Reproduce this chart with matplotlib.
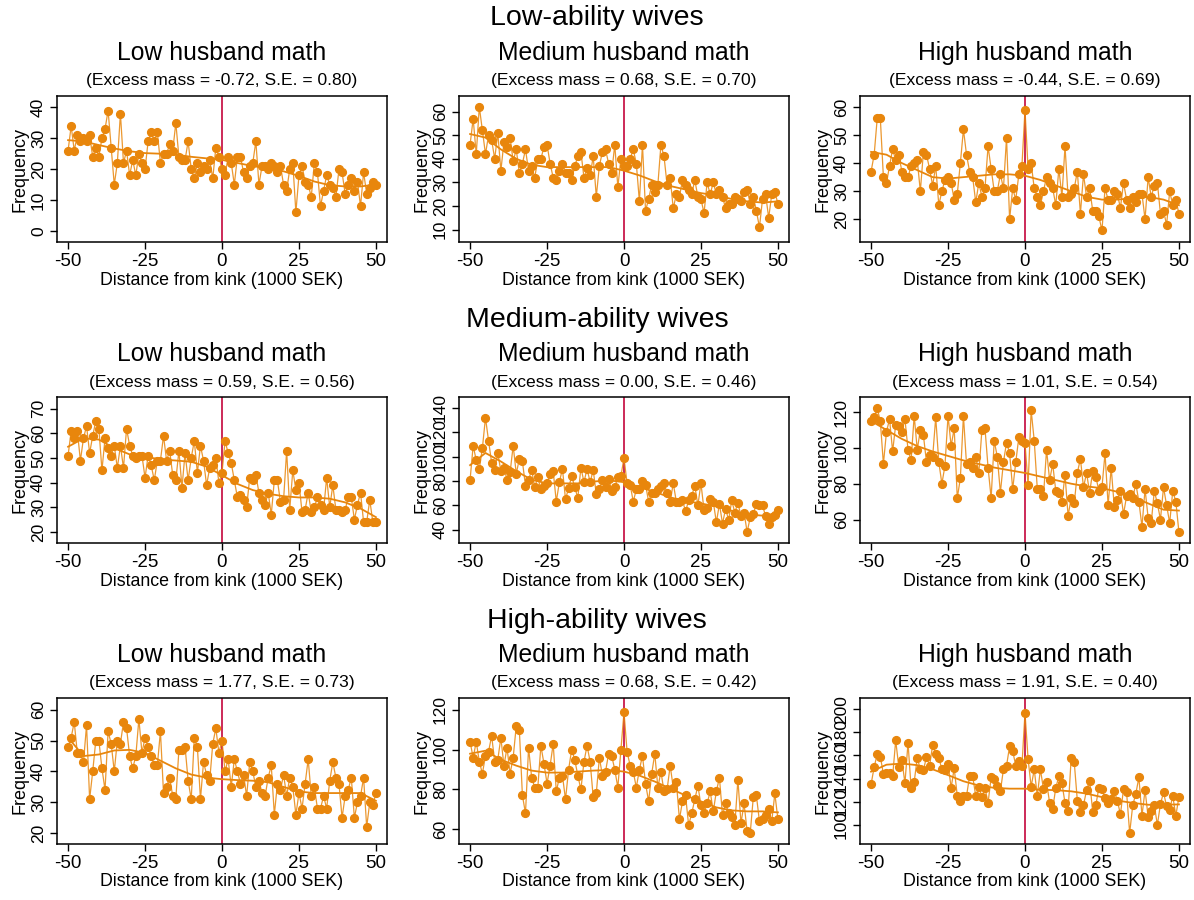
import numpy as np
import matplotlib
matplotlib.use("Agg")
import matplotlib.pyplot as plt

plt.rcParams['font.family'] = ['Liberation Sans', 'DejaVu Sans']

X = list(range(-50, 51))
CURVE_X = list(range(-50, 51, 5))

GROUP_TITLES = ["Low-ability wives", "Medium-ability wives", "High-ability wives"]
PANEL_TITLES = ["Low husband math", "Medium husband math", "High husband math"]
SUBTITLES = [
    ["(Excess mass = -0.72, S.E. = 0.80)", "(Excess mass = 0.68, S.E. = 0.70)", "(Excess mass = -0.44, S.E. = 0.69)"],
    ["(Excess mass = 0.59, S.E. = 0.56)", "(Excess mass = 0.00, S.E. = 0.46)", "(Excess mass = 1.01, S.E. = 0.54)"],
    ["(Excess mass = 1.77, S.E. = 0.73)", "(Excess mass = 0.68, S.E. = 0.42)", "(Excess mass = 1.91, S.E. = 0.40)"],
]
XLABEL = "Distance from kink (1000 SEK)"
YLABEL = "Frequency"
XTICKS = [-50, -25, 0, 25, 50]

# ---- Low-ability wives ----
low_low = [26,34,26,31,29,30,29,31,24,27,
           24,30,33,39,27,15,22,38,22,26,
           18,23,18,25,22,20,29,32,29,32,
           22,25,25,28,26,35,24,23,23,29,
           20,17,22,19,21,20,23,17,27,24,
           20,18,24,22,15,24,24,19,17,21,
           22,29,15,21,21,20,22,21,19,21,
           15,13,20,22,6,18,21,16,15,11,
           22,19,8,13,18,15,14,11,20,19,
           12,15,17,13,16,8,19,12,14,16,
           15]
low_low_fit = [29.4,29,27.8,26.7,25.8,25.2,25,24.7,24,23.5,23,22,21,20.3,19.3,17.8,16,14.8,14.4,14.4,15]

low_med = [46,57,42,62,52,42,50,48,40,51,
           35,47,45,49,39,44,34,38,44,35,
           37,32,40,40,45,46,38,32,31,35,
           38,34,34,31,37,41,43,32,36,33,
           41,24,37,43,44,38,34,46,28,40,
           37,37,40,44,38,22,46,18,23,29,
           26,29,46,41,29,32,19,25,24,31,
           29,27,25,31,24,23,17,30,25,30,
           25,27,24,19,21,21,24,23,22,26,
           27,21,24,18,11,23,25,15,25,26,
           21]
low_med_fit = [50.5,49,44,40,37.5,36.5,36.5,36.5,36.5,36.5,35,33,30.5,28.5,27,25.5,24.5,23,22,21.5,22]

low_high = [37,43,56,56,35,33,39,45,41,43,
            37,35,35,39,40,41,30,44,43,38,
            32,39,25,30,34,35,33,27,29,40,
            52,43,37,35,26,33,28,31,46,38,
            30,30,36,31,49,20,31,27,36,39,
            59,38,40,31,28,25,30,35,33,31,
            25,38,28,46,28,29,31,37,22,36,
            28,31,23,23,21,16,31,27,27,30,
            29,24,33,27,24,28,26,29,29,20,
            35,28,32,33,22,23,18,30,25,27,
            22]
low_high_fit = [44,43,40,37.5,35,34.5,35,35.5,36,36,35.5,34,32,30,28,27,27,27.5,28,27,25]

# ---- Medium-ability wives ----
med_low = [51,61,58,61,49,58,63,52,59,65,
           62,45,58,54,51,55,46,55,46,62,
           55,51,50,51,51,42,51,47,41,49,
           49,59,49,53,43,41,53,38,52,41,
           50,57,44,55,49,39,46,47,50,40,
           44,57,52,48,41,34,35,33,30,42,
           41,43,36,33,31,36,27,41,41,32,
           33,53,29,45,37,40,28,29,36,28,
           30,34,31,29,42,30,39,29,29,28,
           29,34,34,25,31,36,24,24,33,24,
           24]
med_low_fit = [54.6,58,57.5,54,51.5,50.5,49.5,49,48.5,46.5,43,39.5,37,35.5,34.5,34,34,33.5,32,29.5,26]

med_med = [81,109,97,90,107,132,113,95,89,103,
           88,91,81,87,109,86,98,96,76,81,
           89,75,83,73,76,78,86,88,63,79,
           90,65,74,84,75,66,91,79,90,79,
           89,69,73,81,75,82,72,75,83,84,
           99,78,77,63,73,73,80,77,63,70,
           70,73,76,78,70,63,78,63,63,64,
           55,64,68,76,60,78,56,58,65,63,
           46,61,45,57,48,64,54,62,51,54,
           38,50,53,61,60,60,51,45,50,52,
           56]
med_med_fit = [93,103,96,88,81,78,78,78,79.5,80.5,79,75,71,66.5,63.5,61.5,59,55.5,52.5,51.5,51.5]

med_high = [115,117,122,115,91,109,116,98,113,112,
            109,116,99,93,118,99,110,107,92,96,
            95,117,92,80,90,118,101,111,72,83,
            118,91,92,89,95,86,110,111,89,72,
            104,95,75,92,103,97,77,92,106,104,
            103,79,121,104,77,77,73,99,82,91,
            76,75,70,85,62,72,69,86,94,78,
            86,75,87,84,76,78,97,68,89,67,
            71,76,63,73,74,72,80,70,56,77,
            61,58,76,69,60,78,68,58,76,70,
            53]
med_high_fit = [115,110,105,101,98,95.5,93,91,89,87.5,86,84,82,80,78.5,77.5,75.5,72.5,69,65.5,65]

# ---- High-ability wives ----
high_low = [48,51,56,46,46,43,55,31,40,50,
            50,41,34,53,49,40,50,49,56,54,
            45,41,45,57,46,51,48,45,42,42,
            53,33,35,38,32,31,47,47,48,37,
            31,51,48,31,43,39,37,49,54,46,
            50,40,44,35,44,40,36,39,32,43,
            40,35,37,33,32,38,42,26,36,34,
            39,32,38,35,26,33,28,36,44,32,
            35,28,28,32,28,37,43,38,36,25,
            32,34,38,25,30,32,38,22,30,29,
            33]
high_low_fit = [51,45,45.5,46.8,47,46,43.5,41,39,38,37.5,37.2,37,36.5,35,33.5,33,33,33,33,30.5]

high_med = [104,96,104,94,88,97,99,107,94,95,
            106,92,101,88,96,112,110,77,68,101,
            86,81,81,102,93,83,92,103,79,86,
            87,75,90,100,95,87,80,94,102,94,
            76,78,96,87,89,98,97,90,81,100,
            119,99,92,89,81,90,97,83,74,88,
            98,81,89,79,80,92,81,84,65,74,
            77,62,68,75,82,72,68,73,79,69,
            79,86,67,73,68,66,62,85,63,73,
            59,58,76,77,64,65,67,70,64,78,
            65]
high_med_fit = [98,99.5,95,92,89.5,88.5,88.5,89,89.5,89.8,89,87,84,80.5,77,74,71,69.5,69,69,68.5]

high_high = [135,150,161,159,144,145,145,142,173,150,
             156,136,171,132,137,158,148,147,159,151,
             169,161,158,148,147,153,132,149,125,121,
             125,125,142,142,125,133,124,132,119,141,
             140,134,129,148,151,168,164,151,155,151,
             197,157,133,148,125,148,131,137,119,114,
             132,142,136,119,112,158,154,121,111,117,
             130,138,111,117,132,131,123,119,122,129,
             121,109,131,128,93,117,127,141,108,130,
             107,112,117,100,118,128,116,113,125,108,
             124]
high_high_fit = [146,152,153,151.6,148,143,137.7,134,132,131.3,131.3,130.4,130,129,127,124,121,119,117.4,117.4,117.7]

SERIES = [[low_low, low_med, low_high],
          [med_low, med_med, med_high],
          [high_low, high_med, high_high]]
FITS = [[low_low_fit, low_med_fit, low_high_fit],
        [med_low_fit, med_med_fit, med_high_fit],
        [high_low_fit, high_med_fit, high_high_fit]]
YTICKS = [[[0, 10, 20, 30, 40], [10, 20, 30, 40, 50, 60], [20, 30, 40, 50, 60]],
          [[20, 30, 40, 50, 60, 70], [40, 60, 80, 100, 120, 140], [60, 80, 100, 120]],
          [[20, 30, 40, 50, 60], [60, 80, 100, 120], [100, 120, 140, 160, 180, 200]]]
YLIMS = [[(-3.6, 43.7), (4.8, 66.6), (11.9, 63.9)],
         [(15.5, 74.8), (29, 149), (46.9, 128.4)],
         [(16.5, 63.8), (52.6, 126), (83.5, 209.6)]]

ORANGE = '#E8860C'
RED = '#C8194B'

W, H = 1194, 900
fig = plt.figure(figsize=(W / 100, H / 100), dpi=100)

col_left = [57, 459, 860]
row_top = [96, 397, 698]
ax_w, ax_h = 330, 146

group_y = [18, 320, 621]

for r in range(3):
    fig.text(0.5, 1 - group_y[r] / H, GROUP_TITLES[r], ha='center', va='center', fontsize=20.5)
    for c in range(3):
        l = col_left[c]
        t = row_top[r]
        ax = fig.add_axes([l / W, 1 - (t + ax_h) / H, ax_w / W, ax_h / H])
        y = SERIES[r][c]
        ax.axvline(0, color=RED, lw=1.3, zorder=1)
        ax.plot(X, y, color=ORANGE, lw=0.9, alpha=0.85, zorder=2)
        ax.plot(X, y, 'o', color=ORANGE, ms=5.6, mec=ORANGE, zorder=3)
        ax.plot(CURVE_X, FITS[r][c], color=ORANGE, lw=1.3, zorder=4)
        ax.set_xlim(-53.6, 53.6)
        ax.set_ylim(*YLIMS[r][c])
        ax.set_xticks(XTICKS)
        ax.set_xticklabels([str(v) for v in XTICKS], fontsize=13.5)
        ax.set_yticks(YTICKS[r][c])
        ax.set_yticklabels([str(v) for v in YTICKS[r][c]], fontsize=12.5, rotation=90, va='center')
        ax.tick_params(direction='out', length=5, width=1, pad=3)
        for s in ax.spines.values():
            s.set_linewidth(1.1)
        ax.set_xlabel(XLABEL, fontsize=12.8, labelpad=1)
        ax.set_ylabel(YLABEL, fontsize=13, labelpad=2)
        cx = (l + ax_w / 2) / W
        fig.text(cx, 1 - (t - 43) / H, PANEL_TITLES[c], ha='center', va='center', fontsize=17.8)
        fig.text(cx, 1 - (t - 15) / H, SUBTITLES[r][c], ha='center', va='center', fontsize=12.6)

fig.savefig('out.png', dpi=100)
